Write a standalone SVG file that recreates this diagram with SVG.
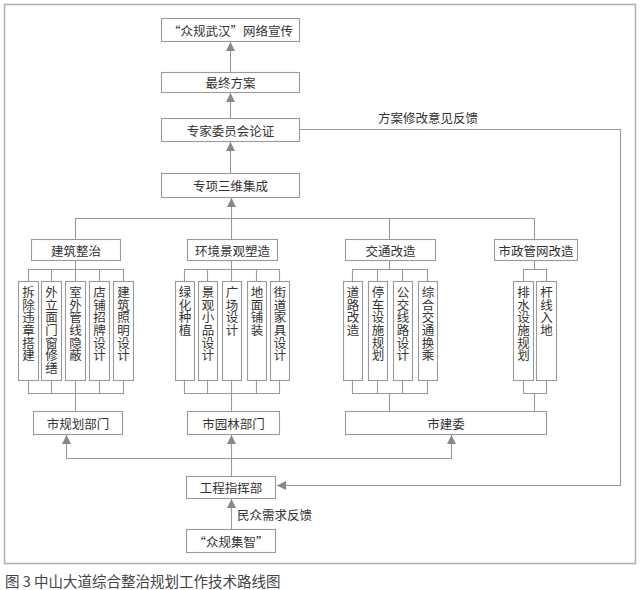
<svg xmlns="http://www.w3.org/2000/svg" width="640" height="590" viewBox="0 0 640 590">
<style>
.box{fill:#fff;stroke:#9a9a9a;stroke-width:1.1}
.ln{fill:none;stroke:#9a9a9a;stroke-width:1.1}
.t{font-family:"Noto Sans CJK SC","Noto Sans",sans-serif;font-size:12.5px;fill:#333;text-anchor:middle;dominant-baseline:central}
.v{font-family:"Noto Sans CJK SC","Noto Sans",sans-serif;font-size:12.5px;fill:#333;writing-mode:vertical-rl;text-orientation:upright;letter-spacing:0.2px}
.cap{font-family:"Noto Sans CJK SC","Noto Sans",sans-serif;font-size:14.5px;fill:#444}
</style>
<defs>
<marker id="ah" viewBox="0 0 10 10" refX="10" refY="5" markerWidth="9" markerHeight="9" markerUnits="userSpaceOnUse" orient="auto">
<path d="M0,0 L10,5 L0,10 z" fill="#888"/>
</marker>
</defs>
<rect x="4.5" y="4.5" width="631" height="559" fill="#fff" stroke="#b0b0b0" stroke-width="1.5"/>

<g id="connectors">
<line class="ln" x1="230.5" y1="72" x2="230.5" y2="42" marker-end="url(#ah)"/>
<line class="ln" x1="230.5" y1="118" x2="230.5" y2="93" marker-end="url(#ah)"/>
<line class="ln" x1="230.5" y1="173" x2="230.5" y2="142" marker-end="url(#ah)"/>
<polyline class="ln" points="75.5,239 75.5,218.5 534.5,218.5 534.5,239"/>
<line class="ln" x1="231.5" y1="239" x2="231.5" y2="218"/>
<line class="ln" x1="389.5" y1="239" x2="389.5" y2="218"/>
<line class="ln" x1="231.5" y1="218" x2="231.5" y2="198" marker-end="url(#ah)"/>
<line class="ln" x1="75.5" y1="260" x2="75.5" y2="269"/>
<polyline class="ln" points="28.5,281 28.5,269.5 123.5,269.5 123.5,281"/>
<line class="ln" x1="51.5" y1="269" x2="51.5" y2="281"/>
<line class="ln" x1="75.5" y1="269" x2="75.5" y2="281"/>
<line class="ln" x1="99.5" y1="269" x2="99.5" y2="281"/>
<line class="ln" x1="231.5" y1="260" x2="231.5" y2="269"/>
<polyline class="ln" points="184.5,281 184.5,269.5 279.5,269.5 279.5,281"/>
<line class="ln" x1="207.5" y1="269" x2="207.5" y2="281"/>
<line class="ln" x1="231.5" y1="269" x2="231.5" y2="281"/>
<line class="ln" x1="256.5" y1="269" x2="256.5" y2="281"/>
<line class="ln" x1="389.5" y1="260" x2="389.5" y2="269"/>
<polyline class="ln" points="352.5,281 352.5,269.5 427.5,269.5 427.5,281"/>
<line class="ln" x1="377.5" y1="269" x2="377.5" y2="281"/>
<line class="ln" x1="402.5" y1="269" x2="402.5" y2="281"/>
<line class="ln" x1="534.5" y1="260" x2="534.5" y2="269"/>
<polyline class="ln" points="523.5,281 523.5,269.5 546.5,269.5 546.5,281"/>
<polyline class="ln" points="28.5,380 28.5,393.5 123.5,393.5 123.5,380"/>
<line class="ln" x1="51.5" y1="380" x2="51.5" y2="393"/>
<line class="ln" x1="75.5" y1="380" x2="75.5" y2="411"/>
<line class="ln" x1="99.5" y1="380" x2="99.5" y2="393"/>
<polyline class="ln" points="184.5,380 184.5,393.5 279.5,393.5 279.5,380"/>
<line class="ln" x1="207.5" y1="380" x2="207.5" y2="393"/>
<line class="ln" x1="231.5" y1="380" x2="231.5" y2="411"/>
<line class="ln" x1="256.5" y1="380" x2="256.5" y2="393"/>
<polyline class="ln" points="352.5,380 352.5,393.5 427.5,393.5 427.5,380"/>
<line class="ln" x1="377.5" y1="380" x2="377.5" y2="393"/>
<line class="ln" x1="402.5" y1="380" x2="402.5" y2="393"/>
<line class="ln" x1="389.5" y1="393" x2="389.5" y2="411"/>
<polyline class="ln" points="523.5,380 523.5,393.5 546.5,393.5 546.5,380"/>
<line class="ln" x1="534.5" y1="393" x2="534.5" y2="411"/>
<line class="ln" x1="231.5" y1="476" x2="231.5" y2="435" marker-end="url(#ah)"/>
<polyline class="ln" points="66.5,436 66.5,458.5 451.5,458.5 451.5,436"/>
<line class="ln" x1="66.5" y1="445" x2="66.5" y2="435" marker-end="url(#ah)"/>
<line class="ln" x1="451.5" y1="445" x2="451.5" y2="435" marker-end="url(#ah)"/>
<polyline class="ln" points="299,129.5 620.5,129.5 620.5,485.5 277,485.5" marker-end="url(#ah)"/>
<line class="ln" x1="231.5" y1="529" x2="231.5" y2="499" marker-end="url(#ah)"/>
<text class="t" x="428" y="117">方案修改意见反馈</text>
<text class="t" x="237" y="514" style="text-anchor:start">民众需求反馈</text>
</g>

<g id="n_publicity"><rect class="box" x="161.5" y="18.5" width="138" height="23"/><text class="t" x="230.5" y="30">“众规武汉”网络宣传</text></g>
<g id="n_final"><rect class="box" x="161.5" y="72.5" width="138" height="20"/><text class="t" x="230.5" y="82.5">最终方案</text></g>
<g id="n_expert"><rect class="box" x="161.5" y="118.5" width="138" height="23"/><text class="t" x="230.5" y="130">专家委员会论证</text></g>
<g id="n_3d"><rect class="box" x="161.5" y="173.5" width="138" height="24"/><text class="t" x="230.5" y="185.5">专项三维集成</text></g>

<g id="n_arch"><rect class="box" x="31.5" y="239.5" width="89" height="21"/><text class="t" x="76" y="250">建筑整治</text></g>
<g id="n_land"><rect class="box" x="187.5" y="239.5" width="90" height="21"/><text class="t" x="232.5" y="250">环境景观塑造</text></g>
<g id="n_traffic"><rect class="box" x="345.5" y="239.5" width="90" height="21"/><text class="t" x="390.5" y="250">交通改造</text></g>
<g id="n_pipe"><rect class="box" x="494.5" y="239.5" width="83" height="21"/><text class="t" x="536" y="250">市政管网改造</text></g>

<g id="l1"><rect class="box" x="18.5" y="281.5" width="20" height="99"/><text class="v" x="28.5" y="286">拆除违章搭建</text></g>
<g id="l2"><rect class="box" x="41.5" y="281.5" width="20" height="99"/><text class="v" x="51.5" y="286">外立面门窗修缮</text></g>
<g id="l3"><rect class="box" x="65.5" y="281.5" width="20" height="99"/><text class="v" x="75.5" y="286">室外管线隐蔽</text></g>
<g id="l4"><rect class="box" x="89.5" y="281.5" width="20" height="99"/><text class="v" x="99.5" y="286">店铺招牌设计</text></g>
<g id="l5"><rect class="box" x="113.5" y="281.5" width="20" height="99"/><text class="v" x="123.5" y="286">建筑照明设计</text></g>

<g id="l6"><rect class="box" x="175.5" y="281.5" width="19" height="99"/><text class="v" x="185" y="286">绿化种植</text></g>
<g id="l7"><rect class="box" x="198.5" y="281.5" width="19" height="99"/><text class="v" x="208" y="286">景观小品设计</text></g>
<g id="l8"><rect class="box" x="222.5" y="281.5" width="19" height="99"/><text class="v" x="232" y="286">广场设计</text></g>
<g id="l9"><rect class="box" x="247.5" y="281.5" width="19" height="99"/><text class="v" x="257" y="286">地面铺装</text></g>
<g id="l10"><rect class="box" x="270.5" y="281.5" width="19" height="99"/><text class="v" x="280" y="286">街道家具设计</text></g>

<g id="l11"><rect class="box" x="343.5" y="281.5" width="19" height="99"/><text class="v" x="353" y="286">道路改造</text></g>
<g id="l12"><rect class="box" x="368.5" y="281.5" width="19" height="99"/><text class="v" x="378" y="286">停车设施规划</text></g>
<g id="l13"><rect class="box" x="393.5" y="281.5" width="19" height="99"/><text class="v" x="403" y="286">公交线路设计</text></g>
<g id="l14"><rect class="box" x="418.5" y="281.5" width="19" height="99"/><text class="v" x="428" y="286">综合交通换乘</text></g>

<g id="l15"><rect class="box" x="513.5" y="281.5" width="20" height="99"/><text class="v" x="523.5" y="286">排水设施规划</text></g>
<g id="l16"><rect class="box" x="536.5" y="281.5" width="20" height="99"/><text class="v" x="546.5" y="286">杆线入地</text></g>

<g id="n_plan"><rect class="box" x="33.5" y="411.5" width="89" height="23"/><text class="t" x="78" y="423">市规划部门</text></g>
<g id="n_garden"><rect class="box" x="187.5" y="411.5" width="92" height="23"/><text class="t" x="233.5" y="423">市园林部门</text></g>
<g id="n_constr"><rect class="box" x="345.5" y="411.5" width="201" height="23"/><text class="t" x="446" y="423">市建委</text></g>
<g id="n_cmd"><rect class="box" x="186.5" y="476.5" width="89" height="22"/><text class="t" x="231" y="487.5">工程指挥部</text></g>
<g id="n_crowd"><rect class="box" x="186.5" y="529.5" width="89" height="23"/><text class="t" x="231" y="541">“众规集智”</text></g>

<text class="cap" x="5" y="587">图 3  中山大道综合整治规划工作技术路线图</text>
</svg>
